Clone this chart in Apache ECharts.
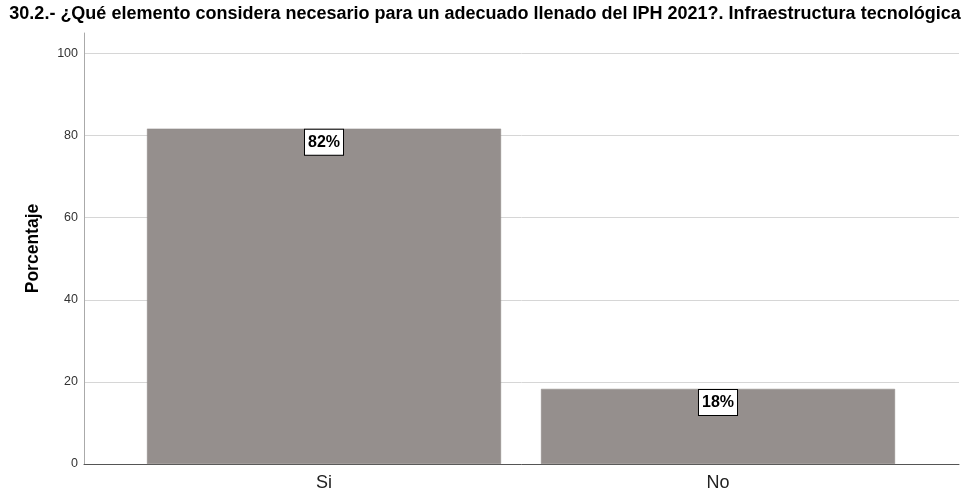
<!DOCTYPE html>
<html>
<head>
<meta charset="utf-8">
<script src="https://cdn.jsdelivr.net/npm/echarts@6/dist/echarts.min.js"></script>
<style>
  html, body { margin: 0; padding: 0; background: #fff; }
  #chart { width: 970px; height: 495px; }
</style>
</head>
<body>
<div id="chart"></div>
<script>
const titleText = '30.2.- ¿Qué elemento considera necesario para un adecuado llenado del IPH 2021?. Infraestructura tecnológica'
const categories = ['Si', 'No']
const percentages = [81.7, 18.3]
const percentLabels = ['82%', '18%']
const yMin = 0
const yMax = 105
const yStep = 20

const chart = echarts.init(document.getElementById('chart'))
const fontFamily = '"Liberation Sans", Arial, sans-serif'

// frame grid (axis lines + gridlines) and a narrower grid holding the bars
const frameGrid = { left: 84, right: 11, top: 33, bottom: 31 }
const barGrid = { left: 127, right: 55, top: 33, bottom: 31 }

const option = {
  animation: false,
  backgroundColor: '#fff',
  textStyle: { fontFamily: fontFamily },
  title: {
    text: titleText,
    left: 'center',
    top: 0,
    textStyle: { fontSize: 18, fontWeight: 'bold', color: '#000', fontFamily: fontFamily }
  },
  grid: [frameGrid, barGrid],
  xAxis: [
    {
      type: 'category',
      gridIndex: 0,
      data: categories,
      axisLine: { show: true, lineStyle: { color: '#555', width: 1 } },
      axisTick: { show: false },
      axisLabel: { show: false },
      splitLine: { show: false }
    },
    {
      type: 'category',
      gridIndex: 1,
      data: categories,
      axisLine: { show: false },
      axisTick: { show: false },
      axisLabel: { color: '#222', fontSize: 18, margin: 10, fontFamily: fontFamily },
      splitLine: { show: false }
    }
  ],
  yAxis: [
    {
      type: 'value',
      gridIndex: 0,
      min: yMin,
      max: yMax,
      interval: yStep,
      name: 'Porcentaje',
      nameLocation: 'middle',
      nameGap: 42,
      nameTextStyle: { fontSize: 17.5, fontWeight: 'bold', color: '#000', fontFamily: fontFamily },
      axisLine: { show: true, lineStyle: { color: '#aaa', width: 1 } },
      axisTick: { show: false },
      axisLabel: { color: '#333', fontSize: 12.5, margin: 6, showMaxLabel: false, fontFamily: fontFamily },
      splitLine: { show: true, showMaxLine: false, lineStyle: { color: '#d6d6d6', width: 1 } }
    },
    {
      type: 'value',
      gridIndex: 1,
      min: yMin,
      max: yMax,
      show: false,
      splitLine: { show: false }
    }
  ],
  series: [
    {
      type: 'bar',
      xAxisIndex: 1,
      yAxisIndex: 1,
      barWidth: 354,
      data: percentages.map((v, i) => ({ value: v, label: { formatter: percentLabels[i] } })),
      itemStyle: { color: '#958f8d', borderColor: '#8c8684', borderWidth: 0.5 },
      label: {
        show: true,
        position: 'insideTop',
        distance: 1,
        fontSize: 16,
        fontWeight: 'bold',
        color: '#000',
        fontFamily: fontFamily,
        backgroundColor: '#fff',
        borderColor: '#000',
        borderWidth: 1,
        padding: [5, 3, 4, 3]
      }
    }
  ]
}
chart.setOption(option)
</script>
</body>
</html>
